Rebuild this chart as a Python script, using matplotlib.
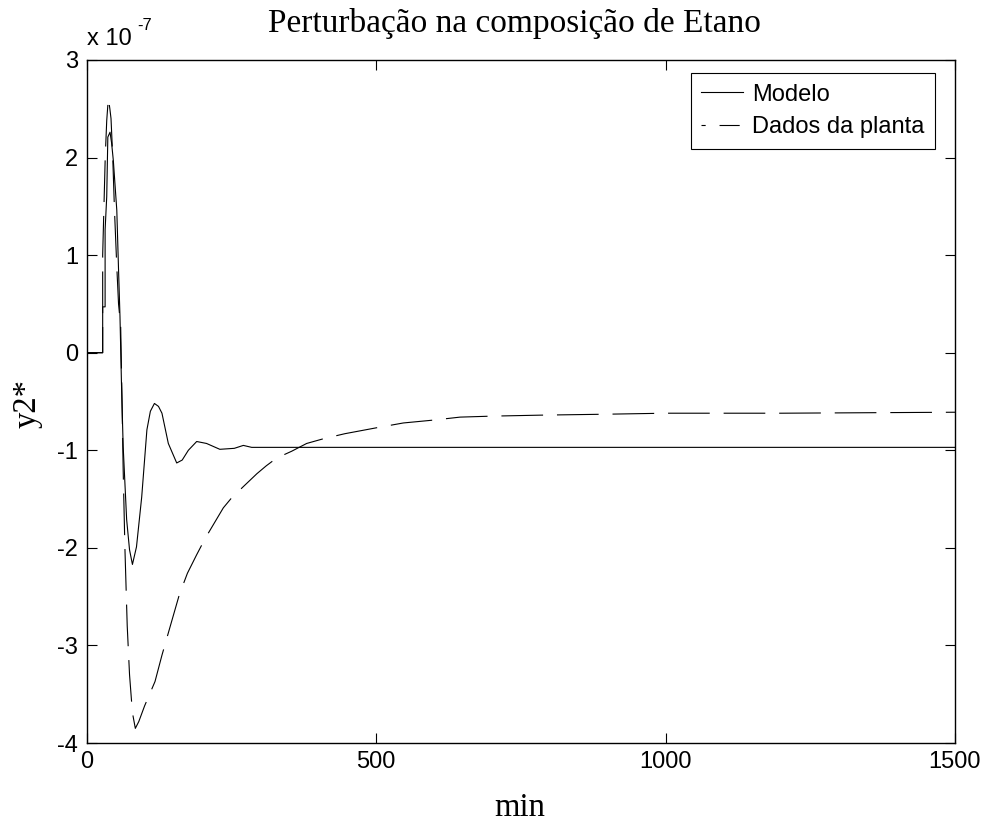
"""
Perturbação na composição de Etano — modelo vs dados da planta.
"""

import matplotlib
matplotlib.use("Agg")
import matplotlib.pyplot as plt
from matplotlib.ticker import FuncFormatter

SCALE = 1e-7

# Modelo (valores em unidades de 1e-7)
modelo_t = [0, 27.6, 27.6, 31.8, 31.8, 34.6, 36.5, 40.3, 43, 46, 52, 55, 57.5, 60,
            63, 69, 74, 79, 86, 95, 104, 110, 117, 124, 130, 141, 155.5, 165,
            175.6, 190, 207, 230, 255, 270.6, 285, 320, 500, 1000, 1500]
modelo_y = [0, 0, 0.47, 0.47, 1.26, 1.6, 2.21, 2.26, 2.15, 1.97, 1.46, 0.85, 0.37,
            -0.3, -0.96, -1.71, -2.02, -2.17, -1.99, -1.48, -0.79, -0.6, -0.52,
            -0.55, -0.62, -0.93, -1.13, -1.1, -1.0, -0.91, -0.93, -0.99, -0.98,
            -0.95, -0.97, -0.97, -0.97, -0.97, -0.97]

# Dados da planta (valores em unidades de 1e-7)
planta_t = [0, 27.6, 27.6, 32, 34.6, 37.4, 40, 42, 45, 48, 52, 55, 58.7, 60.5, 63,
            66, 70, 74, 79, 84, 90, 100, 118, 130, 144, 160, 174, 190, 205, 222,
            236, 250, 271, 294, 310, 328, 354, 380, 410, 446, 500, 547, 600, 645,
            700, 783, 900, 1000, 1200, 1500]
planta_y = [0, 0, 1.0, 2.0, 2.38, 2.61, 2.5, 2.4, 2.0, 1.46, 0.88, 0.5, 0.27, -0.31,
            -1.2, -2.0, -2.8, -3.3, -3.69, -3.85, -3.78, -3.62, -3.37, -3.1, -2.81,
            -2.48, -2.26, -2.07, -1.9, -1.73, -1.59, -1.49, -1.37, -1.24, -1.16,
            -1.08, -1.01, -0.93, -0.88, -0.83, -0.77, -0.72, -0.69, -0.66, -0.65,
            -0.64, -0.63, -0.62, -0.62, -0.61]

x_ticks = [0, 500, 1000, 1500]
y_ticks = [-4, -3, -2, -1, 0, 1, 2, 3]

plt.rcParams.update({
    "font.family": ["Liberation Sans", "DejaVu Sans"],
    "lines.scale_dashes": False,
    "axes.linewidth": 1.0,
})

W, H = 986, 824
fig = plt.figure(figsize=(W / 100, H / 100), dpi=100)
ax = fig.add_axes([86.7 / W, 81 / H, (955 - 86.7) / W, (743 - 60) / H])

ax.plot(modelo_t, [v * SCALE for v in modelo_y], color="black", linewidth=0.8,
        label="Modelo")
ax.plot(planta_t, [v * SCALE for v in planta_y], color="black", linewidth=0.8,
        dashes=(30, 10), label="Dados da planta")

ax.set_xlim(0, 1500)
ax.set_ylim(-4 * SCALE, 3 * SCALE)
ax.set_xticks(x_ticks)
ax.set_yticks([v * SCALE for v in y_ticks])
ax.yaxis.set_major_formatter(FuncFormatter(lambda v, p: f"{round(v / SCALE):d}"))
ax.tick_params(direction="in", length=7, width=0.8, labelsize=17,
               top=True, right=True, pad=6)

# multiplicador estilo MATLAB
fig.text(87 / W, 1 - 45 / H, "x 10", fontsize=17, ha="left", va="baseline")
fig.text(137 / W, 1 - 30 / H, "-7", fontsize=12, ha="left", va="baseline")

serif = ["Liberation Serif", "DejaVu Serif"]
fig.text(514 / W, 1 - 32 / H, "Perturbação na composição de Etano",
         family=serif, fontsize=24, ha="center", va="baseline")
fig.text(520 / W, 1 - 816 / H, "min", family=serif, fontsize=23.5,
         ha="center", va="baseline")
fig.text(43 / W, 1 - 404 / H, "y2*", family=serif, fontsize=23.5,
         rotation=90, ha="right", va="center")

leg = ax.legend(loc="upper right", bbox_to_anchor=(935 / W, 1 - 73 / H),
                bbox_transform=fig.transFigure, borderaxespad=0,
                fancybox=False, framealpha=1, edgecolor="black",
                fontsize=17, handlelength=1.75, handletextpad=0.4,
                borderpad=0.45, labelspacing=0.45)
leg.get_frame().set_linewidth(0.8)
leg.get_lines()[1].set_linestyle((0, (3, 10, 14.5, 20)))

fig.savefig("out.png", dpi=100)
